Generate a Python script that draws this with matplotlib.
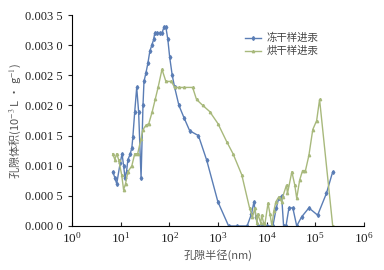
import numpy as np
import matplotlib
matplotlib.use("Agg")
import matplotlib.pyplot as plt

plt.rcParams['mathtext.fontset'] = 'stix'
plt.rcParams['font.family'] = ['Liberation Serif']

# freeze-dried sample (冻干样进汞): pore radius (nm) and pore volume
r_freeze = [6.9, 7.6, 8.3, 9.8, 10.7, 11.5, 12.3, 13.2, 14.1, 15.8, 17.0, 17.8,
            19.5, 21.4, 23.4, 26.3, 28.8, 30.2, 33.1, 36.3, 39.8, 43.7, 47.9,
            50.1, 56.2, 63.1, 70.8, 77.6, 85.1, 93.3, 102, 115, 129, 158, 200,
            263, 398, 589, 1000, 1660, 2512, 3981, 4898, 5495, 6026, 6761, 7943,
            10000, 13490, 15849, 17783, 20417, 22387, 25119, 28840, 34674, 41687,
            52481, 74131, 112202, 169824, 229087]
v_freeze = [0.0009, 0.0008, 0.0007, 0.00105, 0.0012, 0.0010, 0.0008, 0.0009,
            0.0011, 0.0012, 0.0013, 0.00147, 0.0019, 0.0023, 0.0019, 0.0008,
            0.0020, 0.0024, 0.00254, 0.0027, 0.0029, 0.0030, 0.0031, 0.0032,
            0.0032, 0.0032, 0.0032, 0.0033, 0.0033, 0.0031, 0.0028, 0.0025,
            0.0023, 0.0020, 0.0018, 0.00158, 0.0015, 0.00109, 0.0004, 0.0,
            0.0, 0.0, 0.0002, 0.0004, 0.00015, 0.0, 0.0, 0.0, 0.0, 0.0003,
            0.00046, 0.0005, 0.0, 0.0, 0.0003, 0.0003, 0.0, 0.00015, 0.0003,
            0.00018, 0.00054, 0.0009]

# oven-dried sample (烘干样进汞)
r_oven = [6.9, 7.6, 8.3, 9.1, 10.5, 11.5, 12.6, 14.1, 17.0, 19.5, 22.4, 26.3,
          28.8, 33.1, 38.0, 44.7, 51.3, 58.9, 70.8, 85.1, 110, 129, 158, 200,
          302, 363, 490, 676, 1000, 1514, 2042, 3090, 4467, 5129, 5754, 6310,
          6607, 7586, 7943, 8710, 9120, 10715, 11749, 12882, 14125, 15488,
          17783, 20417, 21380, 25704, 26915, 33113, 38019, 41687, 47863, 54954,
          63096, 74131, 89125, 107152, 123027, 229087]
v_oven = [0.0012, 0.0011, 0.0012, 0.0011, 0.00085, 0.0006, 0.0007, 0.0009,
          0.0010, 0.0012, 0.0012, 0.00145, 0.0016, 0.00167, 0.0017, 0.0019,
          0.0021, 0.0023, 0.0026, 0.0024, 0.0024, 0.0023, 0.0023, 0.0023,
          0.0023, 0.0021, 0.0020, 0.0019, 0.0017, 0.0014, 0.0012, 0.00085,
          0.0003, 0.00015, 0.0003, 0.00005, 0.0002, 0.00005, 0.00018, 0.00005,
          0.0, 0.00038, 0.0002, 0.0, 0.00025, 0.0004, 0.00048, 0.0004,
          0.00048, 0.00068, 0.00054, 0.0009, 0.00068, 0.00046, 0.00076,
          0.00092, 0.00092, 0.00117, 0.0016, 0.00175, 0.0021, 0.0]

yticks = [0.0, 0.0005, 0.0010, 0.0015, 0.0020, 0.0025, 0.0030, 0.0035]
ytick_labels = ["0.000 0", "0.000 5", "0.001 0", "0.001 5", "0.002 0",
                "0.002 5", "0.003 0", "0.003 5"]
xticks = [1e0, 1e1, 1e2, 1e3, 1e4, 1e5, 1e6]

blue = "#5a7db5"
green = "#a8b97c"
cjk = ['Noto Sans CJK SC', 'DejaVu Sans']

fig = plt.figure(figsize=(3.84, 2.70), dpi=100)
ax = fig.add_axes([0.1875, 0.163, 0.76, 0.781])

ax.plot(r_freeze, v_freeze, color=blue, lw=1.0, marker='d', ms=2.0,
        label='冻干样进汞')
ax.plot(r_oven, v_oven, color=green, lw=1.0, marker='^', ms=1.7,
        label='烘干样进汞')

ax.set_xscale('log')
ax.set_xlim(1, 1e6)
ax.set_ylim(0, 0.0035)
ax.set_xticks(xticks)
ax.minorticks_off()
ax.set_yticks(yticks)
ax.set_yticklabels(ytick_labels, fontsize=9)
for lab in ax.get_xticklabels():
    lab.set_fontsize(9.5)

ax.spines['top'].set_visible(False)
ax.spines['right'].set_visible(False)
ax.tick_params(axis='x', direction='in', length=3, width=0.8, colors='#222222')
ax.tick_params(axis='y', direction='out', length=3, width=0.8, colors='#222222')

ax.set_xlabel('孔隙半径(nm)', family=cjk, fontsize=8, color='#555555', labelpad=3)
ax.set_ylabel('孔隙体积(10$^{-3}$ L • g$^{-1}$)', family=cjk, fontsize=8,
              color='#555555', labelpad=2)

ax.legend(loc='upper left', bbox_to_anchor=(0.56, 0.96), frameon=False,
          prop={'family': cjk, 'size': 7.5}, handlelength=1.6,
          labelspacing=0.3, handletextpad=0.5, labelcolor='#444444')

fig.savefig('out.png', dpi=100)
